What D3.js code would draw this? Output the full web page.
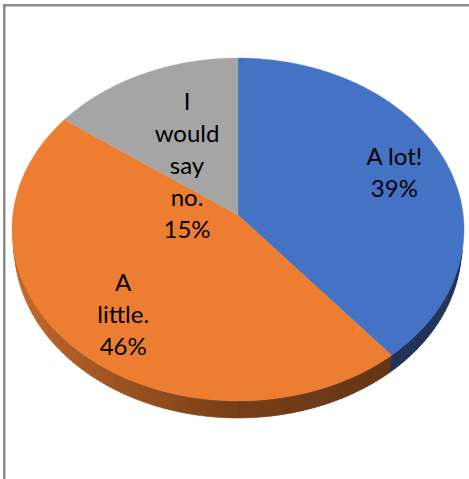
<!DOCTYPE html>
<html>
<head>
<meta charset="utf-8">
<script src="https://cdn.jsdelivr.net/npm/d3@7"></script>
<style>
  html, body { margin: 0; padding: 0; background: #fff; }
  svg { display: block; }
</style>
</head>
<body>
<svg id="chart" width="469" height="479"></svg>
<script>
// ---- data ----
const categories = ["A lot!", "A little.", "I would say no."];
const values = [39, 46, 15];
const percentLabels = ["39%", "46%", "15%"];

// ---- styles / layout ----
const colors = ["#4472C4", "#ED7D31", "#A5A5A5"];
const wrapWidths = [80, 60, 60];
const labelShift = [[11, 6], [-2, 17], [17, 60]];

const W = 469, H = 479;
const svg = d3.select("#chart");

svg.append("rect").attr("x", 0).attr("y", 0).attr("width", W).attr("height", H).attr("fill", "#fff");
svg.append("rect")
  .attr("x", 4.25).attr("y", 5.25).attr("width", 600).attr("height", 600)
  .attr("fill", "#fff").attr("stroke", "#8c8c8c").attr("stroke-width", 2.5);

// perspective projection of a tilted disc
const cx = 238, cy = 215;
const tilt = 49.1 * Math.PI / 180;
const s = Math.sin(tilt), c = Math.cos(tilt);
const D = 11.828 * c;      // camera distance (in radii)
const f = 2663.6 * c;      // focal length (px)
const h = 0.122;           // thickness (in radii)

function project(theta, r, y) {
  const X = r * Math.sin(theta), Z = r * Math.cos(theta), Y = y;
  const depth = D - Y * s + Z * c;
  const vert = Y * c + Z * s;
  return [cx + f * X / depth, cy - f * vert / depth];
}

const pie = d3.pie().sort(null).value(d => d)(values);

// side walls (front-facing parts only)
const wallG = svg.append("g");
function shadeFactor(theta, i) {
  const sn = Math.sin(theta);
  if (i === 0) return 0.45;
  return 0.5 + 0.33 * Math.max(0, -sn) - 0.12 * Math.max(0, sn);
}
pie.forEach((p, i) => {
  const n = Math.max(2, Math.ceil((p.endAngle - p.startAngle) / (Math.PI / 180)));
  const step = (p.endAngle - p.startAngle) / n;
  for (let k = 0; k < n; k++) {
    const a0 = p.startAngle + k * step, a1 = a0 + step;
    const am = (a0 + a1) / 2;
    if (-1 - D * c * Math.cos(am) <= -0.02 && Math.cos(am) > -1 / (D * c) + 0.02) continue;
    if (Math.cos(am) >= -1 / (D * c)) continue;
    const pts = [project(a0, 1, 0), project(a1 + 0.002, 1, 0), project(a1 + 0.002, 1, -h), project(a0, 1, -h)];
    const base = d3.rgb(colors[i]);
    const fct = shadeFactor(am, i);
    const col = d3.rgb(base.r * fct, base.g * fct, base.b * fct);
    wallG.append("path")
      .attr("d", "M" + pts.map(q => q.join(",")).join("L") + "Z")
      .attr("fill", col).attr("stroke", col).attr("stroke-width", 0.6);
  }
});

// top faces
const topG = svg.append("g");
pie.forEach((p, i) => {
  const n = Math.max(2, Math.ceil((p.endAngle - p.startAngle) / (Math.PI / 360)));
  const pts = [project(0, 0, 0)];
  for (let k = 0; k <= n; k++) {
    const a = p.startAngle + (p.endAngle - p.startAngle) * k / n;
    pts.push(project(a, 1, 0));
  }
  topG.append("path")
    .attr("d", "M" + pts.map(q => q.join(",")).join("L") + "Z")
    .attr("fill", colors[i]).attr("stroke", colors[i]).attr("stroke-width", 0.4);
});

// labels
const fontSize = 24, lineH = 32;
const measure = svg.append("text").attr("font-family", "Lato, 'Open Sans', sans-serif").attr("font-size", fontSize).attr("visibility", "hidden");
function textW(t) { measure.text(t); return measure.node().getComputedTextLength(); }
function wrap(str, maxW) {
  const words = str.split(" ");
  const lines = [];
  let cur = "";
  words.forEach(w => {
    const test = cur ? cur + " " + w : w;
    if (cur && textW(test) > maxW) { lines.push(cur); cur = w; } else cur = test;
  });
  if (cur) lines.push(cur);
  return lines;
}
const labelG = svg.append("g");
pie.forEach((p, i) => {
  const mid = (p.startAngle + p.endAngle) / 2;
  const [lx, ly] = project(mid, 0.7, 0);
  const x = lx + labelShift[i][0], y = ly + labelShift[i][1];
  const lines = wrap(categories[i], wrapWidths[i]).concat([percentLabels[i]]);
  const t = labelG.append("text")
    .attr("font-family", "Lato, 'Open Sans', sans-serif")
    .attr("font-size", fontSize)
    .attr("fill", "#000")
    .attr("text-anchor", "middle");
  lines.forEach((ln, j) => {
    t.append("tspan").attr("x", x).attr("y", y + (j - (lines.length - 1) / 2) * lineH).text(ln);
  });
});
measure.remove();
</script>
</body>
</html>
